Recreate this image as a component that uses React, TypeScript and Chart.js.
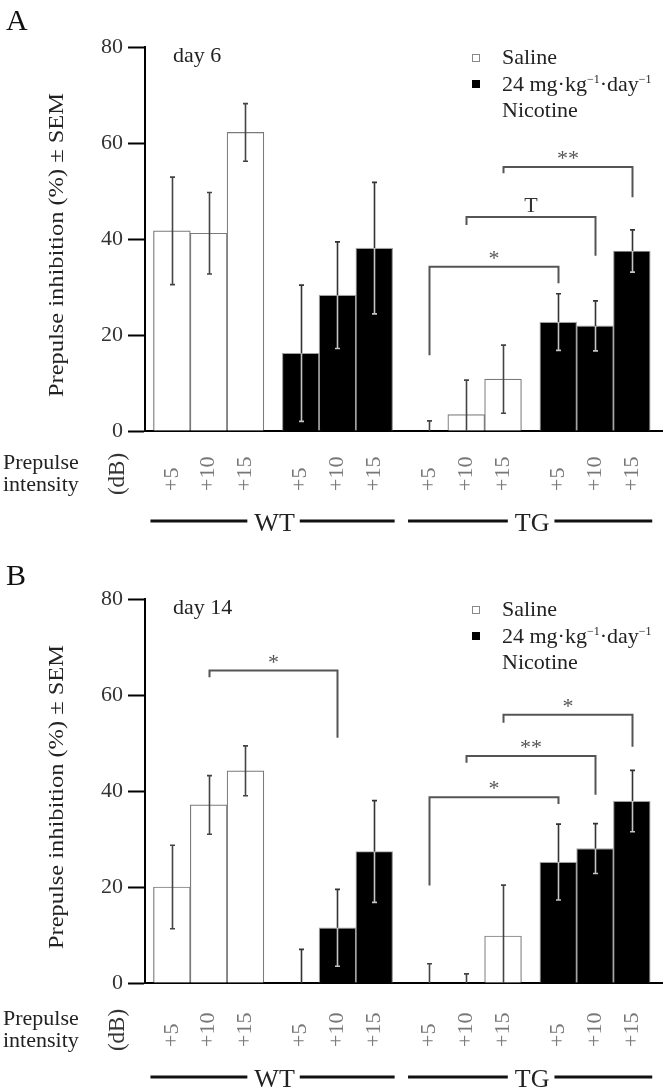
import React, { useEffect, useRef } from 'react';
import { Chart, registerables } from 'chart.js';

Chart.register(...registerables);

// ---- categories ----
const intensities = ['+5', '+10', '+15'];
const genotypes = ['WT', 'TG'];
const treatments = ['Saline', 'Nicotine'];
const yTickStep = 20;
const yMax = 80;

// ---- Panel A: day 6 (order: +5, +10, +15) ----
const day6WTSaline = [41.7, 41.2, 62.2];
const day6WTSalineSem = [11.2, 8.5, 6.0];
const day6WTNicotine = [16.2, 28.3, 38.1];
const day6WTNicotineSem = [14.2, 11.1, 13.7];
const day6TGSaline = [0, 3.4, 10.8];
const day6TGSalineSem = [2.1, 7.2, 7.1];
const day6TGNicotine = [22.7, 21.9, 37.5];
const day6TGNicotineSem = [5.9, 5.2, 4.4];

// significance brackets (bar indices: WT sal 0-2, WT nic 3-5, TG sal 6-8, TG nic 9-11)
const day6BracketFrom = [6, 7, 8];
const day6BracketTo = [9, 10, 11];
const day6BracketTop = [34.2, 44.6, 55.0];
const day6BracketLeftEnd = [15.8, 42.9, 53.7];
const day6BracketRightEnd = [30.8, 36.5, 48.7];
const day6BracketLabels = ['*', 'T', '**'];

// ---- Panel B: day 14 ----
const day14WTSaline = [20.0, 37.1, 44.2];
const day14WTSalineSem = [8.7, 6.1, 5.2];
const day14WTNicotine = [0, 11.5, 27.4];
const day14WTNicotineSem = [7.0, 8.0, 10.6];
const day14TGSaline = [0, 0, 9.8];
const day14TGSalineSem = [4.0, 1.9, 10.6];
const day14TGNicotine = [25.2, 28.0, 37.9];
const day14TGNicotineSem = [7.9, 5.2, 6.4];

const day14BracketFrom = [1, 6, 7, 8];
const day14BracketTo = [4, 9, 10, 11];
const day14BracketTop = [65.1, 38.7, 47.3, 55.9];
const day14BracketLeftEnd = [63.7, 20.3, 45.9, 54.2];
const day14BracketRightEnd = [51.1, 37.3, 39.2, 49.2];
const day14BracketLabels = ['*', '*', '**', '*'];

const FAMILY = '"Liberation Serif", "Times New Roman", serif';

function drawText(ctx: CanvasRenderingContext2D, s: string, x: number, y: number, size: number, o: any = {}) {
  ctx.save();
  ctx.font = `${size}px ${FAMILY}`;
  ctx.fillStyle = o.color || '#222';
  ctx.textAlign = o.align || 'left';
  ctx.textBaseline = o.baseline || 'alphabetic';
  ctx.translate(x, y);
  if (o.rot) ctx.rotate(o.rot);
  if (o.fit) {
    const w = ctx.measureText(s).width;
    if (w > 0) ctx.scale(o.fit / w, 1);
  }
  ctx.fillText(s, 0, 0);
  ctx.restore();
}

type PanelProps = {
  letter: string;
  day: string;
  height: number;
  dy: number;
  letterY: number;
  wtSal: number[]; wtSalSem: number[];
  wtNic: number[]; wtNicSem: number[];
  tgSal: number[]; tgSalSem: number[];
  tgNic: number[]; tgNicSem: number[];
  bFrom: number[]; bTo: number[]; bTop: number[]; bLeft: number[]; bRight: number[]; bLabels: string[];
};

function Panel(p: PanelProps) {
  const ref = useRef<HTMLCanvasElement | null>(null);

  useEffect(() => {
    if (!ref.current) return;
    const means = [...p.wtSal, ...p.wtNic, ...p.tgSal, ...p.tgNic];
    const sems = [...p.wtSalSem, ...p.wtNicSem, ...p.tgSalSem, ...p.tgNicSem];
    const n = intensities.length;
    const positions = means.map((_, i) => i + 0.5 * Math.floor(i / n));
    const isNic = (i: number) => Math.floor(i / n) % 2 === 1;
    const AXIS_BOTTOM = 431;
    const dy = p.dy;

    const overlay = {
      id: 'overlay',
      afterDraw(chart: any) {
        const ctx: CanvasRenderingContext2D = chart.ctx;
        const xs = chart.scales.x;
        const ys = chart.scales.y;
        const ca = chart.chartArea;
        const unit = xs.getPixelForValue(1) - xs.getPixelForValue(0);

        // error bars
        means.forEach((m, i) => {
          const cx = Math.round(xs.getPixelForValue(positions[i])) + 0.5;
          const top = ys.getPixelForValue(m + sems[i]);
          const lowVal = m - sems[i];
          const bot = lowVal > 0 ? ys.getPixelForValue(lowVal) : ca.bottom;
          const barTop = ys.getPixelForValue(m);
          const cap = 2.5;
          ctx.save();
          ctx.lineWidth = 1.6;
          if (isNic(i)) {
            ctx.strokeStyle = '#c4c4c4';
            ctx.beginPath();
            ctx.moveTo(cx, bot); ctx.lineTo(cx, barTop);
            if (lowVal > 0) { ctx.moveTo(cx - cap, bot); ctx.lineTo(cx + cap, bot); }
            ctx.stroke();
            ctx.strokeStyle = '#333';
            ctx.beginPath();
            ctx.moveTo(cx, barTop); ctx.lineTo(cx, top);
            ctx.moveTo(cx - cap, top); ctx.lineTo(cx + cap, top);
            ctx.stroke();
          } else {
            ctx.strokeStyle = '#444';
            ctx.beginPath();
            ctx.moveTo(cx, bot); ctx.lineTo(cx, top);
            ctx.moveTo(cx - cap, top); ctx.lineTo(cx + cap, top);
            if (lowVal > 0) { ctx.moveTo(cx - cap, bot); ctx.lineTo(cx + cap, bot); }
            ctx.stroke();
          }
          ctx.restore();
        });

        // significance brackets
        p.bFrom.forEach((f, k) => {
          const x1 = Math.round(xs.getPixelForValue(positions[f])) + 0.5;
          const x2 = Math.round(xs.getPixelForValue(positions[p.bTo[k]])) + 0.5;
          const yt = ys.getPixelForValue(p.bTop[k]);
          const yl = ys.getPixelForValue(p.bLeft[k]);
          const yr = ys.getPixelForValue(p.bRight[k]);
          ctx.save();
          ctx.strokeStyle = '#555';
          ctx.lineWidth = 2;
          ctx.beginPath();
          ctx.moveTo(x1, yl); ctx.lineTo(x1, yt); ctx.lineTo(x2, yt); ctx.lineTo(x2, yr);
          ctx.stroke();
          ctx.restore();
          const lab = p.bLabels[k];
          if (lab === 'T') {
            drawText(ctx, lab, (x1 + x2) / 2, yt - 5, 22, { align: 'center', color: '#333' });
          } else {
            drawText(ctx, lab, (x1 + x2) / 2, yt - 2, 22, { align: 'center', color: '#555' });
          }
        });

        // panel letter and day
        drawText(ctx, p.letter, 6, p.letterY, 30, { color: '#111' });
        drawText(ctx, p.day, 173, 62, 22, { color: '#222' });

        // legend
        ctx.save();
        ctx.fillStyle = '#fff';
        ctx.strokeStyle = '#888';
        ctx.lineWidth = 1;
        ctx.fillRect(472, 54, 8, 8);
        ctx.strokeRect(472.5, 54.5, 7, 7);
        ctx.fillStyle = '#000';
        ctx.fillRect(472, 80, 8, 8);
        ctx.restore();
        drawText(ctx, treatments[0], 502, 64, 22, { color: '#222' });
        {
          let cx = 502;
          const by = 91;
          const seg = (s: string, size: number, raise: number) => {
            ctx.save();
            ctx.font = `${size}px ${FAMILY}`;
            ctx.fillStyle = '#222';
            ctx.textAlign = 'left';
            ctx.textBaseline = 'alphabetic';
            ctx.fillText(s, cx, by - raise);
            cx += ctx.measureText(s).width;
            ctx.restore();
          };
          seg('24 mg·kg', 22, 0);
          seg('−1', 12, 8);
          seg('·day', 22, 0);
          seg('−1', 12, 8);
        }
        drawText(ctx, treatments[1], 502, 117, 22, { color: '#222' });

        // y axis title
        drawText(ctx, 'Prepulse inhibition (%) ± SEM', 57, (ca.top + ca.bottom) / 2 + 6, 21, {
          rot: -Math.PI / 2, align: 'center', baseline: 'middle', fit: 304, color: '#222',
        });

        // prepulse intensity labels
        drawText(ctx, 'Prepulse', 3, AXIS_BOTTOM + 38 + dy, 22, { color: '#222' });
        drawText(ctx, 'intensity', 3, AXIS_BOTTOM + 60 + dy, 22, { color: '#222' });
        drawText(ctx, '(dB)', 118, AXIS_BOTTOM + 43 + dy, 23, {
          rot: -Math.PI / 2, align: 'center', baseline: 'middle', color: '#333',
        });

        // x tick labels (rotated)
        means.forEach((_, i) => {
          const cx = xs.getPixelForValue(positions[i]);
          drawText(ctx, intensities[i % n], cx, AXIS_BOTTOM + 60 + dy, 22, {
            rot: -Math.PI / 2, align: 'left', baseline: 'middle', color: '#777',
          });
        });

        // genotype lines
        genotypes.forEach((g, gi) => {
          const first = gi * 2 * n;
          const last = first + 2 * n - 1;
          const xl = xs.getPixelForValue(positions[first]) - unit / 2 - 3;
          const xr = xs.getPixelForValue(positions[last]) + unit / 2 + 2;
          const mid = (xl + xr) / 2 + 2;
          const ly = AXIS_BOTTOM + 90 + dy;
          ctx.save();
          ctx.font = `26px ${FAMILY}`;
          const tw = ctx.measureText(g).width;
          ctx.strokeStyle = '#111';
          ctx.lineWidth = 3;
          ctx.beginPath();
          ctx.moveTo(xl, ly); ctx.lineTo(mid - tw / 2 - 7, ly);
          ctx.moveTo(mid + tw / 2 + 5, ly); ctx.lineTo(xr, ly);
          ctx.stroke();
          ctx.restore();
          drawText(ctx, g, mid, ly + 10, 26, { align: 'center', color: '#222' });
        });
      },
    };

    const chart = new Chart(ref.current, {
      type: 'bar',
      data: {
        datasets: [
          {
            data: positions.map((x, i) => ({ x, y: means[i] })),
            backgroundColor: means.map((_, i) => (isNic(i) ? '#000' : '#fff')),
            borderColor: means.map((_, i) => (isNic(i) ? '#a0a0a0' : '#7a7a7a')),
            borderWidth: 1.2,
            barPercentage: 1,
            categoryPercentage: 1,
          } as any,
        ],
      },
      options: {
        responsive: false,
        animation: false,
        devicePixelRatio: 1,
        layout: { padding: { top: 47, right: 8, left: 0, bottom: 0 } },
        plugins: { legend: { display: false }, tooltip: { enabled: false } },
        scales: {
          x: {
            type: 'linear',
            offset: false,
            min: -0.73,
            max: 13.32,
            z: 1,
            afterBuildTicks: (s: any) => { s.ticks = positions.map((v) => ({ value: v })); },
            afterFit: (s: any) => { s.height = p.height - AXIS_BOTTOM; },
            ticks: { display: false },
            grid: { display: false },
            border: { display: true, color: '#000', width: 2 },
          },
          y: {
            min: 0,
            max: yMax,
            z: 1,
            afterFit: (s: any) => { s.width = 145; },
            ticks: { stepSize: yTickStep, font: { family: FAMILY, size: 22 }, color: '#333', padding: 5 },
            grid: { display: true, drawOnChartArea: false, drawTicks: true, tickLength: 17, tickColor: '#000', tickWidth: 2 },
            border: { display: true, color: '#000', width: 2 },
          },
        },
      } as any,
      plugins: [overlay],
    });
    return () => chart.destroy();
  }, []);

  return <canvas ref={ref} width={670} height={p.height} style={{ display: 'block', width: 670, height: p.height }} />;
}

export default function App() {
  useEffect(() => {
    document.body.style.margin = '0';
    document.body.style.background = '#fff';
  }, []);
  return (
    <div style={{ width: 670, background: '#fff' }}>
      <Panel
        letter="A" day="day 6" height={552} dy={0} letterY={30}
        wtSal={day6WTSaline} wtSalSem={day6WTSalineSem}
        wtNic={day6WTNicotine} wtNicSem={day6WTNicotineSem}
        tgSal={day6TGSaline} tgSalSem={day6TGSalineSem}
        tgNic={day6TGNicotine} tgNicSem={day6TGNicotineSem}
        bFrom={day6BracketFrom} bTo={day6BracketTo} bTop={day6BracketTop}
        bLeft={day6BracketLeftEnd} bRight={day6BracketRightEnd} bLabels={day6BracketLabels}
      />
      <Panel
        letter="B" day="day 14" height={536} dy={4} letterY={33}
        wtSal={day14WTSaline} wtSalSem={day14WTSalineSem}
        wtNic={day14WTNicotine} wtNicSem={day14WTNicotineSem}
        tgSal={day14TGSaline} tgSalSem={day14TGSalineSem}
        tgNic={day14TGNicotine} tgNicSem={day14TGNicotineSem}
        bFrom={day14BracketFrom} bTo={day14BracketTo} bTop={day14BracketTop}
        bLeft={day14BracketLeftEnd} bRight={day14BracketRightEnd} bLabels={day14BracketLabels}
      />
    </div>
  );
}
